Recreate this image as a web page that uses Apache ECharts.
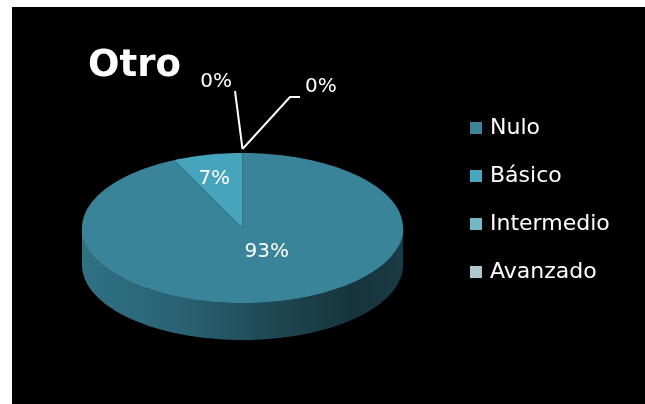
<!DOCTYPE html>
<html>
<head>
<meta charset="utf-8">
<script src="https://cdn.jsdelivr.net/npm/echarts@6/dist/echarts.min.js"></script>
<style>
  html, body { margin: 0; padding: 0; background: #ffffff; }
  #chart { position: absolute; left: 12px; top: 7px; width: 633px; height: 397px; background: #000000; }
</style>
</head>
<body>
<div id="chart"></div>
<script>
// ---- data ----
const titleText = 'Otro';
const categories = ['Nulo', 'Básico', 'Intermedio', 'Avanzado'];
const values = [93, 7, 0, 0];
const percentLabels = ['93%', '7%', '0%', '0%'];

// ---- styles / layout ----
const topColors = ['#3a8499', '#46a4bd', '#6cb7cb', '#a9c5ce'];
const legendColors = ['#3b8599', '#47a8c2', '#74b8ca', '#b0c8d0'];
const FONT = 'DejaVu Sans';
const geo = { cx: 230.5, cy: 221, rx: 160.5, ry: 75, depth: 37 };
// offsets for labels of tiny slices, relative to the slice anchor point on the rim
const outsideLayout = {
  2: { bend: [-7.5, -58], tail: [0, 0], align: 'right', textDx: -3, textDy: 1, vAlign: 'bottom' },
  3: { bend: [47.5, -52], tail: [10, 0], align: 'left', textDx: 5, textDy: 0, vAlign: 'bottom' }
};

const total = values.reduce((a, b) => a + b, 0);
const starts = [];
values.reduce((acc, v, i) => { starts[i] = acc; return acc + v; }, 0);

function pt(t, dy) {
  return [geo.cx + geo.rx * Math.sin(t), geo.cy - geo.ry * Math.cos(t) + (dy || 0)];
}
function arc(a, b, dy) {
  const pts = [];
  const n = Math.max(2, Math.ceil((b - a) / (Math.PI / 180)));
  for (let k = 0; k <= n; k++) pts.push(pt(a + (b - a) * k / n, dy));
  return pts;
}

function makeRender(idx) {
  return function (params, api) {
    const v = api.value(0), s = api.value(1), tot = api.value(2);
    const a = s / tot * Math.PI * 2;
    const b = (s + v) / tot * Math.PI * 2;
    const children = [];
    if (v > 0) {
      // side face (front half only)
      const fa = Math.max(a, Math.PI / 2), fb = Math.min(b, Math.PI * 1.5);
      if (fb > fa) {
        const topArc = arc(fa, fb, 0);
        const botArc = arc(fa, fb, geo.depth).reverse();
        children.push({
          type: 'polygon',
          shape: { points: topArc.concat(botArc) },
          style: {
            fill: {
              type: 'linear', global: true,
              x: geo.cx - geo.rx, y: 0, x2: geo.cx + geo.rx, y2: 0,
              colorStops: [
                { offset: 0, color: '#2f7184' },
                { offset: 0.3, color: '#2a6373' },
                { offset: 0.6, color: '#1e4753' },
                { offset: 0.85, color: '#17333c' },
                { offset: 1, color: '#1b3b45' }
              ]
            }
          }
        });
        children.push({
          type: 'polyline',
          shape: { points: arc(fa + 0.05, fb - 0.05, -1) },
          style: { stroke: 'rgba(120,190,210,0.55)', lineWidth: 1.5, fill: null }
        });
      }
      // top face
      children.push({
        type: 'polygon',
        shape: { points: [[geo.cx, geo.cy]].concat(arc(a, b, 0)) },
        style: { fill: topColors[idx] }
      });
    }
    // label
    const frac = v / tot;
    if (frac >= 0.02) {
      const m = (a + b) / 2;
      children.push({
        type: 'text',
        style: {
          text: percentLabels[idx],
          x: geo.cx + geo.rx * Math.sin(m) * 0.75 - 2,
          y: geo.cy - geo.ry * Math.cos(m) * 0.5 - 13,
          fill: '#ffffff', font: '20px "' + FONT + '"',
          align: 'center', verticalAlign: 'middle'
        },
        z2: 10
      });
    } else {
      const lay = outsideLayout[idx];
      const anchor = pt(b, -4);
      const bend = [anchor[0] + lay.bend[0], anchor[1] + lay.bend[1]];
      const tail = [bend[0] + lay.tail[0], bend[1] + lay.tail[1]];
      children.push({
        type: 'polyline',
        shape: { points: [anchor, bend, tail] },
        style: { stroke: '#ffffff', lineWidth: 2, fill: null },
        z2: 10
      });
      children.push({
        type: 'text',
        style: {
          text: percentLabels[idx],
          x: tail[0] + lay.textDx, y: tail[1] + lay.textDy,
          fill: '#ffffff', font: '20px "' + FONT + '"',
          align: lay.align, verticalAlign: lay.vAlign
        },
        z2: 10
      });
    }
    return { type: 'group', children: children };
  };
}

const chart = echarts.init(document.getElementById('chart'), null, { renderer: 'canvas' });
chart.setOption({
  backgroundColor: '#000000',
  animation: false,
  title: {
    text: titleText, left: 76, top: 41, padding: 0,
    textStyle: { color: '#ffffff', fontFamily: FONT, fontWeight: 'bold', fontSize: 37 }
  },
  legend: {
    orient: 'vertical', left: 458, top: 108, itemGap: 22, padding: 0,
    icon: 'rect', itemWidth: 12, itemHeight: 12,
    data: categories,
    textStyle: { color: '#ffffff', fontFamily: FONT, fontSize: 22, lineHeight: 26, padding: [0, 0, 0, 3] }
  },
  series: categories.map((name, i) => ({
    type: 'custom', name: name, coordinateSystem: 'none',
    itemStyle: { color: legendColors[i] },
    renderItem: makeRender(i),
    data: [[values[i], starts[i], total]]
  }))
});
</script>
</body>
</html>
